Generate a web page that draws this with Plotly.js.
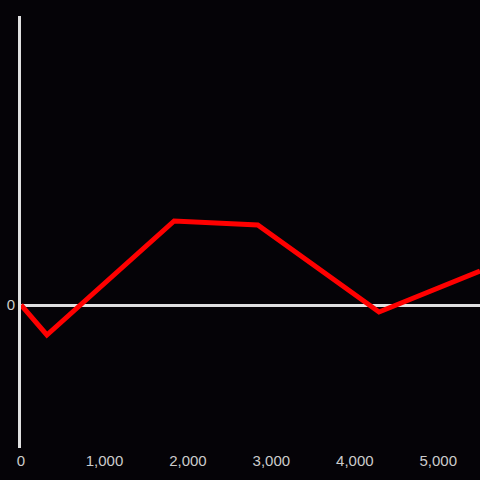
<!DOCTYPE html>
<html>
<head>
<meta charset="utf-8">
<script src="https://cdn.plot.ly/plotly-3.0.1.min.js"></script>
<style>html,body{margin:0;padding:0;background:#050307;}</style>
</head>
<body>
<div id="chart" style="width:480px;height:480px;"></div>
<script>
const xValues = [0, 310, 1835, 2837, 4290, 5500];
const yValues = [0, -30, 84, 80, -7, 34];
const xTickVals = [0, 1000, 2000, 3000, 4000, 5000];
const xTickText = ["0", "1,000", "2,000", "3,000", "4,000", "5,000"];
const yTickVals = [0];
const yTickText = ["0"];

Plotly.newPlot("chart", [{
  x: xValues,
  y: yValues,
  type: "scatter",
  mode: "lines",
  line: {color: "#ff0000", width: 5},
  hoverinfo: "none"
}], {
  width: 480,
  height: 480,
  paper_bgcolor: "#050307",
  plot_bgcolor: "#050307",
  margin: {l: 21, r: 0, t: 16, b: 32},
  showlegend: false,
  font: {family: "Liberation Sans, Arial, sans-serif", size: 15, color: "#cccccc"},
  xaxis: {
    range: [0, 5500],
    showgrid: false,
    zeroline: false,
    showline: false,
    tickvals: xTickVals,
    ticktext: xTickText,
    ticks: "",
    ticklabelstandoff: 2,
    tickfont: {size: 15, color: "#cccccc"}
  },
  yaxis: {
    range: [-143, 289],
    showgrid: false,
    zeroline: true,
    zerolinecolor: "#e0e0e0",
    zerolinewidth: 3,
    showline: true,
    linecolor: "#e0e0e0",
    linewidth: 3,
    tickvals: yTickVals,
    ticktext: yTickText,
    ticks: "",
    tickfont: {size: 15, color: "#cccccc"}
  }
}, {displayModeBar: false, staticPlot: true});
</script>
</body>
</html>
